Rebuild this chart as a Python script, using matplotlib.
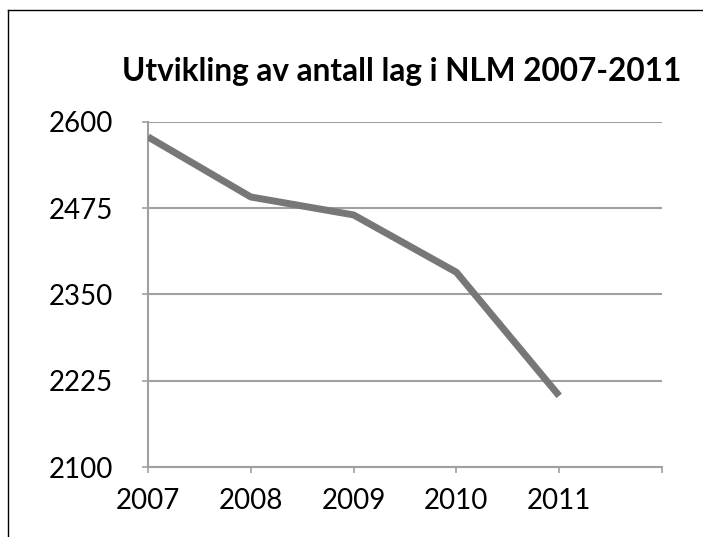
"""Utvikling av antall lag i NLM 2007-2011 — line chart."""

import matplotlib
matplotlib.use("Agg")
import matplotlib.pyplot as plt
import matplotlib.lines as mlines

years = [2007, 2008, 2009, 2010, 2011]
antall_lag = [2578, 2491, 2465, 2382, 2203]
y_ticks = [2100, 2225, 2350, 2475, 2600]

plt.rcParams["font.family"] = ["Lato", "DejaVu Sans"]

fig = plt.figure(figsize=(7.03, 5.37), dpi=100)
ax = fig.add_axes([148 / 703, 1 - 467 / 537, (662 - 148) / 703, (467 - 121.7) / 537])

ax.plot(years, antall_lag, color="#777777", lw=5, solid_capstyle="butt",
        solid_joinstyle="round", zorder=3)

ax.set_xlim(2007, 2012)
ax.set_ylim(2100, 2600)
ax.set_xticks(range(2007, 2013))
ax.set_xticklabels([str(y) for y in years] + [""])
ax.set_yticks(y_ticks)
ax.set_yticklabels([str(v) for v in y_ticks])

ax.grid(axis="y", color="#a0a0a0", lw=1.5)
ax.set_axisbelow(True)
for side in ("top", "right"):
    ax.spines[side].set_visible(False)
for side in ("left", "bottom"):
    ax.spines[side].set_color("#a0a0a0")
    ax.spines[side].set_linewidth(1.5)

ax.tick_params(axis="both", colors="#a0a0a0", length=4, width=1.2,
               labelcolor="black", labelsize=20)
ax.tick_params(axis="y", pad=21)
ax.tick_params(axis="x", pad=11)

fig.text(402 / 703, 1 - 71 / 537, "Utvikling av antall lag i NLM 2007-2011",
         ha="center", va="center", fontsize=22.7, fontweight="bold")

# chart frame (only top and left edges visible in the crop)
fig.add_artist(mlines.Line2D([8 / 703, 8 / 703], [0, 1 - 10 / 537],
                             transform=fig.transFigure, color="black", lw=1))
fig.add_artist(mlines.Line2D([8 / 703, 1], [1 - 10 / 537, 1 - 10 / 537],
                             transform=fig.transFigure, color="black", lw=1))

fig.savefig("out.png", dpi=100)
